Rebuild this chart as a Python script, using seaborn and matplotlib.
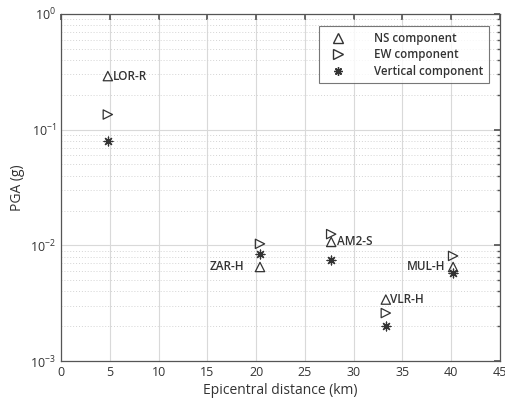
import numpy as np
import pandas as pd
import matplotlib
matplotlib.use("Agg")
import matplotlib.pyplot as plt
from matplotlib.lines import Line2D
from matplotlib.ticker import LogLocator, MultipleLocator, NullFormatter
import seaborn as sns

stations = ["LOR-R", "ZAR-H", "AM2-S", "VLR-H", "MUL-H"]
distance_km = [4.8, 20.4, 27.7, 33.3, 40.2]
pga_ns = [0.29, 0.0065, 0.0107, 0.0034, 0.0065]
pga_ew = [0.135, 0.0103, 0.0125, 0.0026, 0.0081]
pga_vert = [0.079, 0.0084, 0.0075, 0.0020, 0.0058]
components = ["NS component", "EW component", "Vertical component"]

sns.set_theme(style="white")
plt.rcParams["font.family"] = ["Open Sans", "DejaVu Sans"]
plt.rcParams["mathtext.fontset"] = "custom"
plt.rcParams["mathtext.rm"] = "Open Sans"

rows = []
for comp, vals in zip(components, [pga_ns, pga_ew, pga_vert]):
    for s, d, v in zip(stations, distance_km, vals):
        rows.append({"station": s, "distance": d, "pga": v, "component": comp})
df = pd.DataFrame(rows)

fig = plt.figure(figsize=(5.06, 4.08), dpi=100)
ax = fig.add_axes([0.1206, 0.115, 0.8674, 0.851])

c = "#333333"
mk = {"NS component": "^", "EW component": ">", "Vertical component": (8, 2, 0)}
for comp in components:
    sub = df[df["component"] == comp]
    if comp == "Vertical component":
        sns.scatterplot(data=sub, x="distance", y="pga", marker=mk[comp], s=40,
                        color=c, linewidth=0.9, ax=ax, legend=False, zorder=3)
    else:
        sns.scatterplot(data=sub, x="distance", y="pga", marker=mk[comp], s=45,
                        facecolors="none", edgecolor=c, linewidth=0.9, ax=ax,
                        legend=False, zorder=3)

ax.set_yscale("log")
ax.set_xlim(0, 45)
ax.set_ylim(1e-3, 1)
ax.xaxis.set_major_locator(MultipleLocator(5))
ax.yaxis.set_major_locator(LogLocator(base=10, numticks=10))
ax.yaxis.set_minor_locator(LogLocator(base=10, subs=np.arange(2, 10), numticks=20))
ax.yaxis.set_minor_formatter(NullFormatter())

ax.grid(True, which="major", axis="both", color="#d9d9d9", linewidth=0.8)
ax.grid(True, which="minor", axis="y", color="#d4d4d4", linewidth=0.7, linestyle=(0, (1, 2)))
ax.set_axisbelow(True)

for sp in ax.spines.values():
    sp.set_color("#555555")
    sp.set_linewidth(0.9)
ax.tick_params(axis="both", which="both", direction="in", top=True, right=True,
               colors="#555555", labelcolor="#333333", labelsize=9)
ax.tick_params(which="major", length=4)
ax.tick_params(which="minor", length=2)

ax.set_xlabel("Epicentral distance (km)", fontsize=10, color="#333333", labelpad=3)
ax.set_ylabel("PGA (g)", fontsize=10, color="#333333", labelpad=4)

# station labels
fw = "semibold"
ax.text(distance_km[0] + 0.5, pga_ns[0], "LOR-R", ha="left", va="center", fontsize=8.5, fontweight=fw, color=c)
ax.text(distance_km[1] - 1.6, pga_ns[1], "ZAR-H", ha="right", va="center", fontsize=8.5, fontweight=fw, color=c)
ax.text(distance_km[2] + 0.6, pga_ns[2], "AM2-S", ha="left", va="center", fontsize=8.5, fontweight=fw, color=c)
ax.text(distance_km[3] + 0.4, pga_ns[3], "VLR-H", ha="left", va="center", fontsize=8.5, fontweight=fw, color=c)
ax.text(distance_km[4] - 0.8, pga_ns[4], "MUL-H", ha="right", va="center", fontsize=8.5, fontweight=fw, color=c)

handles = [
    Line2D([], [], linestyle="none", marker="^", markerfacecolor="none", markeredgecolor=c, markersize=6.5),
    Line2D([], [], linestyle="none", marker=">", markerfacecolor="none", markeredgecolor=c, markersize=6.5),
    Line2D([], [], linestyle="none", marker=(8, 2, 0), color=c, markeredgecolor=c, markersize=6),
]
leg = ax.legend(handles, components, loc="upper right", bbox_to_anchor=(0.975, 0.965),
                frameon=True, fancybox=False, fontsize=8.3, handletextpad=1.9,
                borderpad=0.5, labelspacing=0.3, handlelength=2.4, borderaxespad=0)
leg.get_frame().set_edgecolor("#555555")
leg.get_frame().set_linewidth(0.8)
for t in leg.get_texts():
    t.set_fontweight("semibold")
    t.set_color(c)

fig.savefig("out.png", dpi=100)
